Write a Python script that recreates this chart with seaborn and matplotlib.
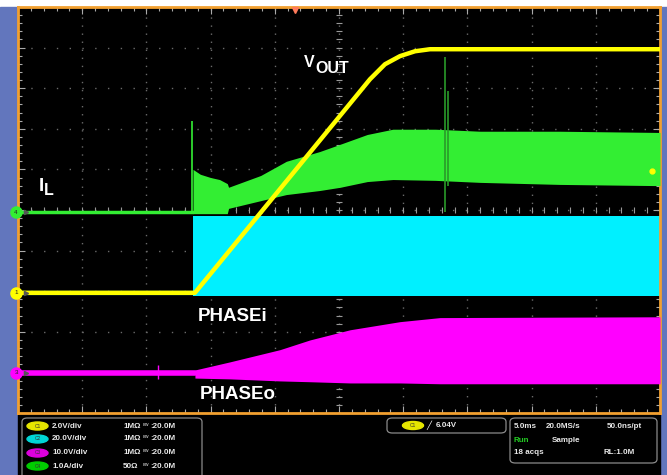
import numpy as np
import matplotlib
matplotlib.use('Agg')
import matplotlib.pyplot as plt
import seaborn as sns
from matplotlib.patches import Rectangle, FancyBboxPatch, Ellipse

# scope screen: 5 ms/div x 10 div, vertical in screen divisions (-5..5)

# VOUT (C1, yellow)
vout_t = [0.0, 13.78, 27.41, 28.58, 29.75, 30.92, 32.09, 50.0]
vout_y = [-2.04, -2.04, 3.22, 3.59, 3.79, 3.91, 3.96, 3.96]

# IL (C4, green): flat line, then ripple envelope
il_base_t = [0.0, 13.63]
il_base_y = [-0.06, -0.06]
il_t = [13.63, 14.2, 15.0, 15.7, 16.3, 16.4, 18.9, 20.9, 23.5, 25.1, 27.2, 29.2, 32.5, 36.0, 42.2, 50.0]
il_top = [1.00, 0.88, 0.80, 0.75, 0.65, 0.56, 0.85, 1.20, 1.44, 1.62, 1.86, 1.99, 1.99, 1.94, 1.94, 1.91]
il_bot = [-0.09, -0.09, -0.09, -0.09, -0.09, 0.04, 0.23, 0.38, 0.48, 0.56, 0.70, 0.75, 0.73, 0.68, 0.63, 0.60]
il_spike_t = [13.55, 33.25, 33.49]
il_spike_lo = [-0.06, -0.06, 0.60]
il_spike_hi = [2.19, 3.77, 2.93]
il_spike_col = ['#33ee33', '#2a9a2a', '#2a9a2a']

# PHASEi (C2, cyan)
phi_base_t = [0.0, 13.63]
phi_base_y = [-2.04, -2.04]
phi_t = [13.63, 50.0]
phi_top = [-0.16, -0.16]
phi_bot = [-2.11, -2.11]

# PHASEo (C3, magenta)
pho_base_t = [0.0, 13.78]
pho_base_y = [-4.01, -4.01]
pho_t = [13.78, 16.51, 20.40, 22.74, 25.86, 29.75, 32.87, 50.0]
pho_top = [-3.94, -3.74, -3.44, -3.20, -2.95, -2.75, -2.65, -2.63]
pho_bot = [-4.14, -4.16, -4.21, -4.23, -4.26, -4.26, -4.28, -4.28]
pho_blip_t = [10.9]
pho_blip_lo = [-4.16]
pho_blip_hi = [-3.81]

# channel readouts
ch_names = ['C1', 'C2', 'C3', 'C4']
ch_scale = ['2.0V/div', '20.0V/div', '10.0V/div', '1.0A/div']
ch_imp = ['1MΩ', '1MΩ', '1MΩ', '50Ω']
ch_bw = ['20.0M', '20.0M', '20.0M', '20.0M']
ch_col = ['#e6e600', '#00d6d6', '#dd00dd', '#00cc00']
trig_level = '6.04V'

YEL = '#ffff00'
GRN = '#33ee33'
CYA = '#00f0ff'
MAG = '#ff00ff'

sns.set_theme(style='dark', rc={'axes.facecolor': 'black'})
plt.rcParams['font.family'] = ['Liberation Sans', 'DejaVu Sans']

fig = plt.figure(figsize=(6.67, 4.75), dpi=100)
fig.patch.set_facecolor('white')

# frame around the screen (drawn below the axes)
fig.patches.append(Rectangle((0, 0), 18 / 667, 1 - 7 / 475, transform=fig.transFigure,
                             color='#6276bd', zorder=-2))
fig.patches.append(Rectangle((660 / 667, 0), 7 / 667, 1 - 7 / 475, transform=fig.transFigure,
                             color='#6276bd', zorder=-2))
fig.patches.append(Rectangle((18 / 667, 0), 642 / 667, 1 - 413 / 475, transform=fig.transFigure,
                             color='black', zorder=-2))

ax = fig.add_axes([18 / 667, 1 - 413 / 475, 642 / 667, 406 / 475])
ax.set_facecolor('black')
ax.set_xlim(0, 50)
ax.set_ylim(-5, 5)

# graticule
ax.set_xticks(np.arange(0, 50.1, 5))
ax.set_yticks(np.arange(-5, 5.1, 1))
ax.set_xticks(np.arange(0, 50.1, 1), minor=True)
ax.set_yticks(np.arange(-5, 5.1, 0.2), minor=True)
ax.xaxis.grid(True, which='major', color='#6a6a6a', lw=1, ls=(0, (1, 4.8)))
ax.yaxis.grid(True, which='major', color='#6a6a6a', lw=1, ls=(0, (1, 8.2)))
ax.tick_params(which='both', direction='in', top=True, right=True, bottom=True, left=True,
               labelbottom=False, labelleft=False, color='#aaaaaa', width=0.8)
ax.tick_params(which='major', length=5)
ax.tick_params(which='minor', length=3)
for s in ax.spines.values():
    s.set_color('#f2a030')
    s.set_linewidth(2)
ax.plot(np.arange(0, 50.1, 1), np.zeros(51), ls='none', marker='|', ms=4, color='#999999', mew=0.8)
ax.plot(np.full(51, 25.0), np.arange(-5, 5.1, 0.2), ls='none', marker='_', ms=4, color='#999999', mew=0.8)

# PHASEi
ax.fill_between(phi_t, phi_bot, phi_top, color=CYA, lw=0, zorder=2)
sns.lineplot(x=phi_base_t, y=phi_base_y, color=CYA, lw=3, ax=ax, zorder=2)

# IL
ax.fill_between(il_t, il_bot, il_top, color=GRN, lw=0, zorder=3)
sns.lineplot(x=il_base_t, y=il_base_y, color=GRN, lw=2.5, ax=ax, zorder=3)
ax.vlines(il_spike_t, il_spike_lo, il_spike_hi, colors=il_spike_col, lw=1.2, zorder=3)

# PHASEo
ax.fill_between(pho_t, pho_bot, pho_top, color=MAG, lw=0, zorder=3)
sns.lineplot(x=pho_base_t, y=pho_base_y, color=MAG, lw=4, ax=ax, zorder=3)
ax.vlines(pho_blip_t, pho_blip_lo, pho_blip_hi, colors=MAG, lw=1, zorder=3)

# VOUT on top
sns.lineplot(x=vout_t, y=vout_y, color=YEL, lw=3.2, ax=ax, zorder=4)

# channel ground markers
for yy, col, lab in [(-0.06, GRN, '4'), (-2.04, YEL, '1'), (-4.01, MAG, '3')]:
    ax.plot([-0.15], [yy], marker='o', ms=8, color=col, mec=col, clip_on=False, zorder=6)
    ax.text(-0.15, yy, lab, color='#222222', fontsize=4.5, ha='center', va='center',
            zorder=7, clip_on=False)
    ax.plot([0.6], [yy], marker='>', ms=3, color='#555555', clip_on=False, zorder=6)
# trigger position / level markers
ax.plot([21.57], [4.93], marker='v', ms=5, color='#ff7a5a', clip_on=False, zorder=6)
ax.plot([49.35], [0.95], marker='o', ms=3.5, color=YEL, zorder=6)

# labels
lab = dict(color='white', fontweight='bold', va='baseline', ha='left', zorder=8)
ax.text(1.64, 0.46, 'I', fontsize=13.5, **lab)
ax.text(2.02, 0.38, 'L', fontsize=11.5, **lab)
ax.text(22.27, 3.52, 'V', fontsize=11.5, **lab)
ax.text(23.13, 3.37, 'OUT', fontsize=11.5, **lab)
ax.text(14.02, -2.73, 'PHASEi', fontsize=13.5, **lab)
ax.text(14.17, -4.65, 'PHASEo', fontsize=13.5, **lab)
ax.set_xlabel('')
ax.set_ylabel('')

# readout panel
def box(x0, y0, x1, y1):
    fig.patches.append(FancyBboxPatch((x0 / 667, 1 - y1 / 475), (x1 - x0) / 667, (y1 - y0) / 475,
                                      boxstyle='round,pad=0,rounding_size=0.008',
                                      transform=fig.transFigure, fc='black', ec='#8a8a8a', lw=0.9))

def badge(xc, yc, col, name):
    fig.patches.append(Ellipse((xc / 667, 1 - yc / 475), 21 / 667, 8 / 475,
                               transform=fig.transFigure, color=col))
    fig.text(xc / 667, 1 - yc / 475, name, fontsize=3.5, color='#333333', ha='center', va='center')

txt = dict(color='#e8e8e8', fontsize=5.8, fontweight='bold', va='center', ha='left')
box(22, 418, 202, 480)
row_y = [426, 439, 453, 466]
for i in range(4):
    yf = 1 - row_y[i] / 475
    badge(37.5, row_y[i], ch_col[i], ch_names[i])
    fig.text(52 / 667, yf, ch_scale[i], **txt)
    fig.text(123 / 667, yf, ch_imp[i], **txt)
    fig.text(143 / 667, yf, 'ᴮᵂ', color='#e8e8e8', fontsize=4.5, va='center', ha='left',
             family=['DejaVu Sans'])
    fig.text(150 / 667, yf, ':' + ch_bw[i], **txt)

box(387, 418, 506, 433)
badge(413, 425.5, ch_col[0], ch_names[0])
fig.text(426 / 667, 1 - 425.5 / 475, '╱', color='white', fontsize=6, va='center', ha='left',
         family=['DejaVu Sans'])
fig.text(436 / 667, 1 - 425.5 / 475, trig_level, **txt)

box(510, 418, 657, 463)
fig.text(514 / 667, 1 - 426 / 475, '5.0ms', **txt)
fig.text(546 / 667, 1 - 426 / 475, '20.0MS/s', **txt)
fig.text(607 / 667, 1 - 426 / 475, '50.0ns/pt', **txt)
fig.text(514 / 667, 1 - 440 / 475, 'Run', **{**txt, 'color': '#22cc22'})
fig.text(552 / 667, 1 - 440 / 475, 'Sample', **txt)
fig.text(514 / 667, 1 - 453 / 475, '18 acqs', **txt)
fig.text(603 / 667, 1 - 453 / 475, 'RL:1.0M', **txt)

fig.savefig('out.png', dpi=100, facecolor=fig.get_facecolor())
